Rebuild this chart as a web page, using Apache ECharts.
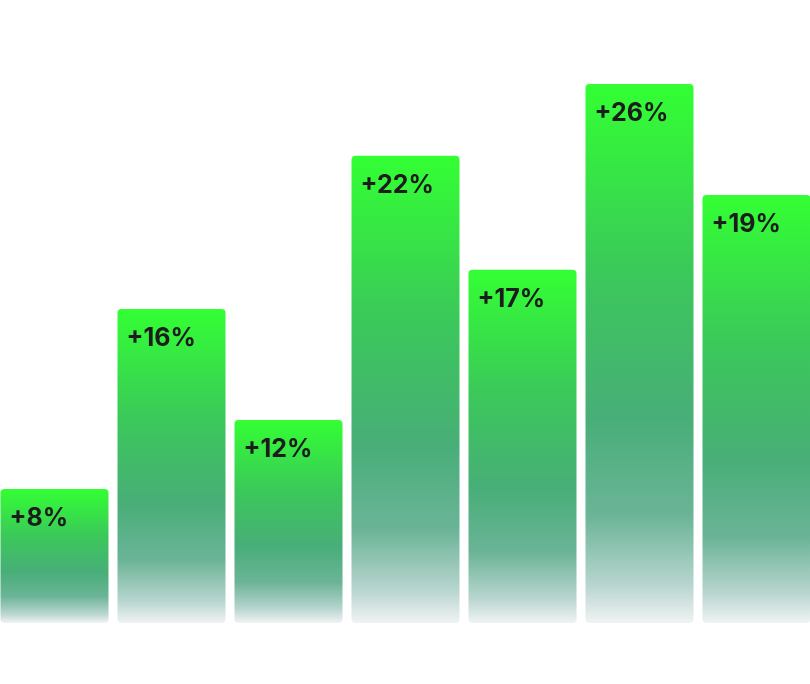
<!DOCTYPE html>
<html>
<head>
<meta charset="utf-8">
<script src="https://cdn.jsdelivr.net/npm/echarts@6/dist/echarts.min.js"></script>
<style>
  html, body { margin: 0; padding: 0; background: #ffffff; overflow: hidden; }
  /* band is 117px wide, so the chart is pushed 4.5px left to put the first bar at x=0 */
  #chart { width: 819px; height: 684px; margin-left: -4.5px; }
</style>
</head>
<body>
<div id="chart"></div>
<script>
const categories = ["A", "B", "C", "D", "E", "F", "G"];
const barHeights = [21.5, 50.4, 32.6, 75.0, 56.7, 86.5, 68.7];
const growthLabels = ["+8%", "+16%", "+12%", "+22%", "+17%", "+26%", "+19%"];

const chart = echarts.init(document.getElementById("chart"));

const barGradient = new echarts.graphic.LinearGradient(0, 0, 0, 1, [
  { offset: 0, color: "#33ff33" },
  { offset: 0.35, color: "#3bc85a" },
  { offset: 0.62, color: "#48ae78" },
  { offset: 0.8, color: "#6bb497" },
  { offset: 0.93, color: "#b8d5cf" },
  { offset: 1, color: "#f0f3f4" },
]);

chart.setOption({
  animation: false,
  grid: { top: 0, right: 0, bottom: 61, left: 0 },
  xAxis: {
    type: "category",
    data: categories,
    show: false,
  },
  yAxis: {
    type: "value",
    min: 0,
    max: 100,
    show: false,
  },
  series: [
    {
      type: "bar",
      data: barHeights,
      barWidth: 108,
      itemStyle: { color: barGradient, borderRadius: 4 },
      label: {
        show: true,
        position: "insideTopLeft",
        distance: 11,
        offset: [-2, 6],
        formatter: (p) => growthLabels[p.dataIndex],
        color: "#1c1c1c",
        fontFamily: "Inter",
        fontWeight: "bold",
        fontSize: 25,
      },
    },
  ],
});
</script>
</body>
</html>
